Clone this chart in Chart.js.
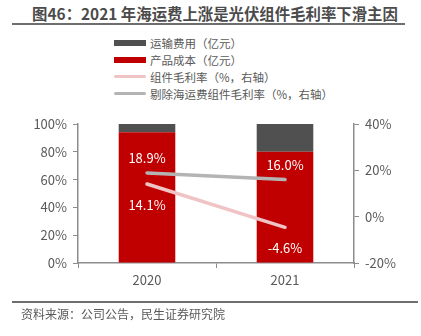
<!DOCTYPE html>
<html>
<head>
<meta charset="utf-8">
<script src="https://cdn.jsdelivr.net/npm/chart.js@4"></script>
<style>
  body { margin: 0; width: 421px; height: 336px; background: #fff; position: relative; overflow: hidden;
         font-family: "Noto Sans CJK SC", "Noto Sans", sans-serif; }
  #title { position: absolute; left: 12px; width: 406px; top: 3px; text-align: center; font-size: 15.4px;
           font-weight: bold; color: #4b4b4b; white-space: nowrap; line-height: 20px; }
  #titleLine { position: absolute; left: 12px; width: 393px; top: 23px; height: 2px; background: #6e6e6e; }
  #legend { position: absolute; left: 114px; top: 34px; font-size: 11.5px; color: #595959; }
  .row { height: 17px; display: flex; align-items: center; }
  .sw { width: 32px; margin-right: 4px; }
  #footLine { position: absolute; left: 12px; width: 406px; top: 301px; height: 2px; background: #6e6e6e; }
  #source { position: absolute; left: 21px; top: 305px; font-size: 12px; color: #595959; }
  canvas { position: absolute; left: 0; top: 0; }
</style>
</head>
<body>
<div id="title">图46：2021 年海运费上涨是光伏组件毛利率下滑主因</div>
<div id="titleLine"></div>
<div id="legend"></div>
<div id="wrap" style="position:absolute;left:0;top:0;width:421px;height:336px;"><canvas id="chart"></canvas></div>
<div id="footLine"></div>
<div id="source">资料来源：公司公告，民生证券研究院</div>
<script>
const years = ['2020', '2021'];
const shippingShare = [6, 20];       // 运输费用占比
const productShare = [94, 80];       // 产品成本占比
const grossMargin = [14.1, -4.6];    // 组件毛利率
const marginExShip = [18.9, 16.0];   // 剔除海运费组件毛利率
const leftTicks = [0, 20, 40, 60, 80, 100];
const rightTicks = [-20, 0, 20, 40];

const axisColor = '#8c8c8c';
const tickFont = { family: 'Noto Sans CJK SC', size: 13 };

// 数据标签
const labelPlugin = {
    id: 'pointLabels',
    afterDatasetsDraw(chart) {
        const ctx = chart.ctx;
        ctx.save();
        ctx.font = '13px "Noto Sans CJK SC"';
        ctx.fillStyle = '#ffffff';
        ctx.textAlign = 'center';
        ctx.textBaseline = 'middle';
        chart.data.datasets.forEach((ds, i) => {
            if (ds.type !== 'line') return;
            const meta = chart.getDatasetMeta(i);
            meta.data.forEach((pt, j) => {
                const dy = ds.labelAbove ? -15 : 21;
                ctx.fillText(ds.data[j].toFixed(1) + '%', pt.x, pt.y + dy);
            });
        });
        ctx.restore();
    }
};

const chart = new Chart(document.getElementById('chart'), {
    type: 'bar',
    data: {
        labels: years,
        datasets: [
            { label: '组件毛利率（%，右轴）', type: 'line', data: grossMargin, yAxisID: 'y1',
              borderColor: '#f0c4c4', borderWidth: 3.5, borderCapStyle: 'round', pointRadius: 0, order: 0 },
            { label: '剔除海运费组件毛利率（%，右轴）', type: 'line', data: marginExShip, yAxisID: 'y1', labelAbove: true,
              borderColor: '#b4b4b4', borderWidth: 3.5, borderCapStyle: 'round', pointRadius: 0, order: 0 },
            { label: '产品成本（亿元）', data: productShare, backgroundColor: '#c00000', order: 1,
              barPercentage: 0.41, categoryPercentage: 1 },
            { label: '运输费用（亿元）', data: shippingShare, backgroundColor: '#505050', order: 1,
              barPercentage: 0.41, categoryPercentage: 1 }
        ]
    },
    options: {
        responsive: true,
        maintainAspectRatio: false,
        animation: false,
        layout: { padding: { top: 124, left: 0, right: 0, bottom: 0 } },
        plugins: { legend: { display: false }, tooltip: { enabled: false } },
        scales: {
            x: {
                stacked: true,
                afterFit: (s) => { s.height = 73; },
                grid: { display: true, drawOnChartArea: false, color: axisColor, tickLength: 5 },
                border: { color: axisColor, width: 1.5 },
                ticks: { color: '#595959', font: tickFont, padding: 4 }
            },
            y: {
                stacked: true, min: 0, max: 100,
                afterFit: (s) => { s.width = 78; },
                afterBuildTicks: (s) => { s.ticks = leftTicks.map(v => ({ value: v })); },
                grid: { display: true, drawOnChartArea: false, color: axisColor, tickLength: 5 },
                border: { color: axisColor, width: 1.5 },
                ticks: { color: '#595959', font: tickFont, padding: 6, callback: v => v + '%' }
            },
            y1: {
                position: 'right', min: -20, max: 40,
                afterFit: (s) => { s.width = 67; },
                afterBuildTicks: (s) => { s.ticks = rightTicks.map(v => ({ value: v })); },
                grid: { display: true, drawOnChartArea: false, color: axisColor, tickLength: 5 },
                border: { color: axisColor, width: 1.5 },
                ticks: { color: '#595959', font: tickFont, padding: 6, callback: v => v + '%' }
            }
        }
    },
    plugins: [labelPlugin]
});

// 图例（竖排）
const legendOrder = [3, 2, 0, 1];
const legendEl = document.getElementById('legend');
legendOrder.forEach(i => {
    const ds = chart.data.datasets[i];
    const row = document.createElement('div');
    row.className = 'row';
    const sw = document.createElement('div');
    sw.className = 'sw';
    if (ds.type === 'line') {
        sw.style.height = '3px';
        sw.style.borderRadius = '2px';
        sw.style.background = ds.borderColor;
    } else {
        sw.style.height = '6px';
        sw.style.background = ds.backgroundColor;
    }
    const txt = document.createElement('span');
    txt.textContent = ds.label;
    row.appendChild(sw);
    row.appendChild(txt);
    legendEl.appendChild(row);
});
</script>
</body>
</html>
